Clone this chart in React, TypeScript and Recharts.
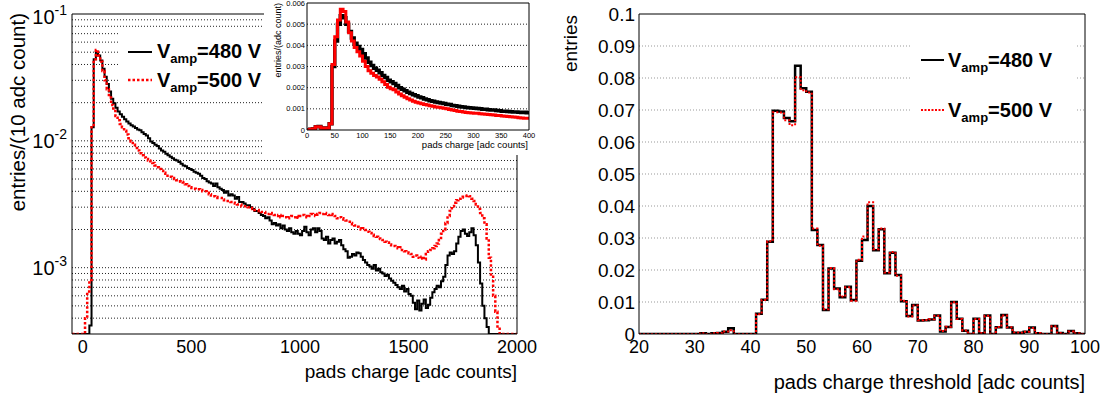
import React from 'react';
import { LineChart, Line, XAxis, YAxis, ReferenceLine } from 'recharts';

const FONT = '"Liberation Sans", Arial, Helvetica, sans-serif';

// Left panel: pads charge spectrum, 10 adc count bins from -50, values in units of 1e-4
const SPEC_BIN_START = -50;
const SPEC_BIN_WIDTH = 10;
const spec480 = [
  3, 3, 3, 3, 3, 3, 3, 3, 3.5,
  128, 440, 505, 470, 430, 370,
  320, 280, 245, 215, 198, 182, 170, 162, 155, 148,
  142, 137, 133, 130, 126, 123, 121, 117, 113, 110,
  105, 99, 96, 93, 91, 87, 84, 82, 79, 77,
  75, 73, 71, 70, 68, 66, 64, 63, 61, 60,
  59, 57, 56, 55, 53, 51, 50, 48, 47, 46,
  44, 46, 43, 42, 41, 39, 40, 37, 38, 37,
  35, 36, 33, 33, 32, 31, 31, 30, 29, 28,
  28, 27, 26, 25.5, 24.5, 25, 23.5, 22, 22.5, 21.5,
  22, 20.5, 21.5, 20, 19.5, 20.5, 19, 18.5, 19.5, 18.5,
  18, 19.5, 21, 19, 18, 20, 20.5, 19, 20.5, 19.5,
  17, 16.5, 17.5, 15.5, 16.5, 17, 15.5, 16, 16.5, 15,
  14, 13.5, 12, 12.2, 12.8, 12.5, 13.2, 13, 12.2, 11.5,
  11, 10.5, 10.2, 9.8, 10.5, 9.5, 9.8, 9.2, 9.0, 8.6,
  8.8, 8.2, 7.9, 7.6, 7.3, 7.0, 6.8, 7.2, 6.5, 6.8,
  6.2, 6.0, 5.3, 4.7, 5.5, 4.6, 5.2, 5.6, 4.8, 5.1,
  5.8, 6.4, 6.8, 7.2, 7.0, 7.8, 8.5, 10.5, 12.5, 13.2,
  12.8, 13.5, 15.5, 17.5, 19.5, 20.0, 18.5, 17.8, 19.0, 20.5,
  18.0, 15.0, 11.0, 7.5, 5.0, 4.0, 3.4, 3.0, 3, 3,
  3, 3, 3, 3, 3, 3, 3, 3, 3, 3,
];
const spec500 = [
  3, 3, 3, 3, 3, 3, 4, 6.5, 8,
  128, 440, 520, 470, 420, 355,
  300, 255, 220, 192, 172, 157, 145, 136, 128, 120,
  112, 105, 99, 93, 88, 84, 80, 77, 74, 72,
  70, 69, 67, 64, 62, 60, 58, 56, 55, 53,
  52, 51, 50, 49, 48, 47.5, 47, 45.5, 44, 43,
  42.5, 42, 41.5, 41.5, 41, 40, 40, 39, 38, 37,
  36.5, 36, 35.5, 35.5, 34.5, 34, 33.5, 33.5, 33, 32.5,
  32, 31.5, 31.5, 30.5, 30.5, 30.5, 30, 29.5, 29, 28.5,
  28.5, 28, 27.5, 27.5, 27, 26.5, 27, 26.5, 26, 25.5,
  26, 25, 25.5, 25, 24.5, 25, 25.5, 25, 25.5, 24.8,
  25.5, 26, 25.5, 25, 25.5, 26.5, 26, 25.5, 26.5, 27,
  26.5, 27, 26.5, 26, 26.5, 26, 25.5, 24.5, 25, 24.5,
  24, 23.5, 23, 22.5, 22, 21.5, 21, 20.5, 20, 20.5,
  19.8, 19.2, 18.8, 18.2, 17.8, 17.5, 17, 16.8, 16.5, 16,
  15.8, 15.2, 15, 14.8, 14.5, 14.2, 14.5, 13.8, 13.5, 13.2,
  13, 12.8, 12.2, 12.5, 12, 11.8, 12.2, 11.6, 12.8, 13.5,
  13.8, 14.2, 14.8, 15.5, 16.5, 18.5, 20, 22.5, 25.5, 28,
  30.5, 32.5, 34, 35, 35.8, 36.2, 36.8, 37, 36.5, 35,
  33.5, 31.5, 29, 27, 24.5, 22, 17, 12, 8.5, 6,
  4.5, 3.3, 3, 3, 3, 3, 3, 3, 3, 3,
];

// Inset: 5 adc count bins from 0, values in units of 1e-4 per adc count
const INSET_BIN_START = 0;
const INSET_BIN_WIDTH = 5;
const inset480 = [
  0, 0.3, 0.6, 1.5, 1.6, 1.0, 0.8, 1.0, 3.0, 30,
  42, 50, 54, 53, 50, 46.5, 43.5, 41, 39.5, 38,
  36, 34, 32, 30.5, 29.2, 28.2, 27, 25.8, 24.8, 23.5,
  22.8, 22, 21, 20, 19.2, 18.5, 17.8, 17.3, 16.6, 16.2,
  15.6, 15.2, 14.7, 14.3, 13.8, 13.6, 13.2, 13, 12.8, 12.5,
  12.2, 12, 11.6, 11.5, 11.2, 11, 10.9, 10.6, 10.5, 10.4,
  10.3, 10.1, 10, 9.8, 9.8, 9.6, 9.5, 9.4, 9.2, 9.1,
  8.9, 8.9, 8.7, 8.6, 8.5, 8.5, 8.4, 8.3, 8.4, 8.2,
];
const inset500 = [
  0, 0.3, 0.6, 1.5, 1.5, 1.0, 0.8, 1.0, 3.0, 31,
  44, 52, 57, 56, 51, 46, 42, 39, 37, 35,
  32.5, 30, 28, 26.8, 25.8, 25, 24, 22.8, 21.5, 20.2,
  19.5, 19, 18, 17, 16.2, 15.5, 14.8, 14.2, 13.6, 13.1,
  12.7, 12.4, 12, 11.8, 11.5, 11.2, 10.9, 10.7, 10.5, 10.3,
  10, 9.7, 9.4, 9.2, 8.9, 8.7, 8.5, 8.3, 8.2, 8.0,
  7.9, 7.9, 7.7, 7.6, 7.4, 7.3, 7.2, 7.1, 6.9, 6.8,
  6.6, 6.5, 6.4, 6.3, 6.1, 6.0, 5.8, 5.7, 5.6, 5.5,
];

// Right panel: pads charge threshold, 1 adc count bins from 20
const THR_BIN_START = 20;
const THR_BIN_WIDTH = 1;
const thr480 = [
  0, 0, 0, 0, 0, 0, 0, 0, 0, 0,
  0, 0.0002, 0, 0.0002, 0.0003, 0.0007, 0.0018, 0, 0, 0,
  0, 0.0063, 0.0107, 0.0288, 0.0698, 0.0695, 0.0675, 0.0665, 0.0838, 0.0768,
  0.0757, 0.0325, 0.0278, 0.0075, 0.0205, 0.0142, 0.0115, 0.0148, 0.0106, 0.0229,
  0.0294, 0.04, 0.0262, 0.0327, 0.019, 0.0254, 0.0184, 0.0102, 0.0056, 0.0091,
  0.0042, 0.0043, 0.0045, 0.0058, 0.0008, 0.0022, 0.01, 0.0048, 0.001, 0,
  0.0048, 0.0002, 0.0058, 0, 0.0021, 0.0059, 0.002, 0.0004, 0.0004, 0.0007,
  0.002, 0.0002, 0, 0, 0.0025, 0.0003, 0, 0.0009, 0.0002, 0,
];
const thr500 = [
  0, 0, 0, 0, 0, 0, 0, 0, 0, 0,
  0, 0.0002, 0, 0.0002, 0.0003, 0.0008, 0.0012, 0, 0, 0,
  0, 0.0062, 0.0106, 0.029, 0.0693, 0.0692, 0.0668, 0.0652, 0.0802, 0.0762,
  0.0755, 0.033, 0.0276, 0.0077, 0.0206, 0.014, 0.0117, 0.0146, 0.0104, 0.0232,
  0.0305, 0.0412, 0.0265, 0.033, 0.0192, 0.0256, 0.0182, 0.0104, 0.0055, 0.0089,
  0.0043, 0.0044, 0.0046, 0.0057, 0.0009, 0.0023, 0.0099, 0.0047, 0.0011, 0,
  0.0047, 0.0003, 0.0057, 0, 0.0022, 0.0058, 0.0021, 0.0005, 0.0004, 0.0007,
  0.0019, 0.0003, 0, 0, 0.0024, 0.0003, 0, 0.0008, 0.0002, 0,
];

// ticks and grid
const specXTicks = [0, 500, 1000, 1500, 2000];
const specXMinor = [100, 200, 300, 400, 600, 700, 800, 900, 1100, 1200, 1300, 1400, 1600, 1700, 1800, 1900];
const specYTicks = [0.1, 0.01, 0.001];
const specYMinor = [
  0.09, 0.08, 0.07, 0.06, 0.05, 0.04, 0.03, 0.02,
  0.009, 0.008, 0.007, 0.006, 0.005, 0.004, 0.003, 0.002,
  0.0009, 0.0008, 0.0007, 0.0006, 0.0005, 0.0004, 0.0003,
];
const specGrid = [
  0.09, 0.08, 0.07, 0.06, 0.05, 0.04, 0.03, 0.02, 0.01,
  0.009, 0.008, 0.007, 0.006, 0.005, 0.004, 0.003, 0.002, 0.001,
  0.0009, 0.0008, 0.0007, 0.0006, 0.0005, 0.0004,
];

const insetXTicks = [0, 50, 100, 150, 200, 250, 300, 350, 400];
const insetXMinor = [10, 20, 30, 40, 60, 70, 80, 90, 110, 120, 130, 140, 160, 170, 180, 190, 210, 220, 230, 240, 260, 270, 280, 290, 310, 320, 330, 340, 360, 370, 380, 390];
const insetYTicks = [0, 0.001, 0.002, 0.003, 0.004, 0.005, 0.006];
const insetYMinor = [0.0002, 0.0004, 0.0006, 0.0008, 0.0012, 0.0014, 0.0016, 0.0018, 0.0022, 0.0024, 0.0026, 0.0028, 0.0032, 0.0034, 0.0036, 0.0038, 0.0042, 0.0044, 0.0046, 0.0048, 0.0052, 0.0054, 0.0056, 0.0058];
const insetGrid = [0.001, 0.002, 0.003, 0.004, 0.005];

const thrXTicks = [20, 30, 40, 50, 60, 70, 80, 90, 100];
const thrXMinor = [22, 24, 26, 28, 32, 34, 36, 38, 42, 44, 46, 48, 52, 54, 56, 58, 62, 64, 66, 68, 72, 74, 76, 78, 82, 84, 86, 88, 92, 94, 96, 98];
const thrYTicks = [0, 0.01, 0.02, 0.03, 0.04, 0.05, 0.06, 0.07, 0.08, 0.09, 0.1];
const thrYMinor = [
  0.002, 0.004, 0.006, 0.008, 0.012, 0.014, 0.016, 0.018, 0.022, 0.024, 0.026, 0.028,
  0.032, 0.034, 0.036, 0.038, 0.042, 0.044, 0.046, 0.048, 0.052, 0.054, 0.056, 0.058,
  0.062, 0.064, 0.066, 0.068, 0.072, 0.074, 0.076, 0.078, 0.082, 0.084, 0.086, 0.088,
  0.092, 0.094, 0.096, 0.098,
];
const thrGrid = [0.01, 0.02, 0.03, 0.04, 0.05, 0.06, 0.07, 0.08, 0.09];

// histogram rows for a step line: one row per bin low edge plus the closing edge
function histRows(start: number, width: number, a: number[], b: number[], unit: number) {
  const rows = a.map((v, i) => ({ x: start + i * width, v480: v * unit, v500: b[i] * unit }));
  rows.push({ x: start + a.length * width, v480: a[a.length - 1] * unit, v500: b[b.length - 1] * unit });
  return rows;
}

const specData = histRows(SPEC_BIN_START, SPEC_BIN_WIDTH, spec480, spec500, 1e-4);
const insetData = histRows(INSET_BIN_START, INSET_BIN_WIDTH, inset480, inset500, 1e-4);
const thrData = histRows(THR_BIN_START, THR_BIN_WIDTH, thr480, thr500, 1);

const LINE = { stroke: '#000', strokeWidth: 1 };
// mirrored axes take no room; a tiny size keeps them drawn without stacking them apart
const THIN = 0.01;

// inward ROOT style ticks on all four sides, drawn by mirrored axes
function frameAxes(
  id: string,
  xDomain: number[],
  yDomain: number[],
  yScale: 'linear' | 'log',
  xMajor: number[],
  xMinor: number[],
  yMajor: number[],
  yMinor: number[],
  xLen: number[],
  yLen: number[],
) {
  const xa = (key: string, orientation: 'top' | 'bottom', ticks: number[], len: number, axisLine: boolean) => (
    <XAxis
      key={key}
      xAxisId={`${id}-${key}`}
      orientation={orientation}
      mirror
      height={THIN}
      type="number"
      domain={xDomain}
      allowDataOverflow
      ticks={ticks}
      interval={0}
      tick={false}
      tickSize={len}
      tickLine={LINE}
      axisLine={axisLine ? LINE : false}
    />
  );
  const ya = (key: string, orientation: 'left' | 'right', ticks: number[], len: number, axisLine: boolean) => (
    <YAxis
      key={key}
      yAxisId={`${id}-${key}`}
      orientation={orientation}
      mirror
      width={THIN}
      type="number"
      scale={yScale}
      domain={yDomain}
      allowDataOverflow
      ticks={ticks}
      interval={0}
      tick={false}
      tickSize={len}
      tickLine={LINE}
      axisLine={axisLine ? LINE : false}
    />
  );
  return [
    xa('bM', 'bottom', xMajor, xLen[0], false),
    xa('bm', 'bottom', xMinor, xLen[1], false),
    xa('tM', 'top', xMajor, xLen[0], true),
    xa('tm', 'top', xMinor, xLen[1], false),
    ya('lM', 'left', yMajor, yLen[0], false),
    ya('lm', 'left', yMinor, yLen[1], false),
    ya('rM', 'right', yMajor, yLen[0], true),
    ya('rm', 'right', yMinor, yLen[1], false),
  ];
}

const renderLogTick = (props: any) => {
  const { x, y, payload } = props;
  const exp = Math.round(Math.log10(payload.value));
  const shift = payload.value >= 0.1 ? 3 : 0;
  return (
    <text x={x} y={y + 7 + shift} textAnchor="end" fill="#000" fontFamily={FONT} fontSize={20}>
      10<tspan dy={-9} fontSize={14}>{`${exp}`}</tspan>
    </text>
  );
};

function VampLabel({ x, y, volts }: { x: number; y: number; volts: number }) {
  return (
    <text x={x} y={y} fontSize={20} fontWeight="bold" fontFamily={FONT} fill="#000">
      V<tspan fontSize={13} dy={4.5}>amp</tspan>
      <tspan dy={-4.5}>{`=${volts} V`}</tspan>
    </text>
  );
}

export default function App() {
  const tickFont = { fontSize: 18, fill: '#000', fontFamily: FONT };
  const smallFont = { fontSize: 7.5, fill: '#000', fontFamily: FONT };

  return (
    <div style={{ position: 'absolute', left: 0, top: 0, width: 1107, height: 399, background: '#fff', overflow: 'hidden' }}>
      {/* Left: charge spectrum, log y */}
      <div style={{ position: 'absolute', left: 0, top: 0 }}>
        <LineChart width={560} height={399} data={specData} margin={{ top: 14, right: 43, bottom: 35, left: 0 }}>
          <XAxis
            xAxisId="x"
            dataKey="x"
            type="number"
            domain={[-50, 2000]}
            allowDataOverflow
            ticks={specXTicks}
            interval={0}
            height={30}
            tickSize={0}
            tickMargin={6}
            tickLine={false}
            axisLine={LINE}
            tick={tickFont}
          />
          <YAxis
            yAxisId="y"
            type="number"
            scale="log"
            domain={[0.0003, 0.1]}
            allowDataOverflow
            ticks={specYTicks}
            interval={0}
            width={72}
            tickSize={0}
            tickMargin={5}
            tickLine={false}
            axisLine={LINE}
            tick={renderLogTick}
          />
          {frameAxes('s', [-50, 2000], [0.0003, 0.1], 'log', specXTicks, specXMinor, specYTicks, specYMinor, [10, 5], [11, 6])}
          {specGrid.map((v) => (
            <ReferenceLine key={v} xAxisId="x" yAxisId="y" y={v} stroke="#222" strokeDasharray="1 2" />
          ))}
          <Line xAxisId="x" yAxisId="y" dataKey="v480" type="stepAfter" stroke="#000" strokeWidth={2} dot={false} activeDot={false} isAnimationActive={false} />
          <Line xAxisId="x" yAxisId="y" dataKey="v500" type="stepAfter" stroke="#ff0000" strokeWidth={2.5} strokeDasharray="2.5 2" dot={false} activeDot={false} isAnimationActive={false} />
        </LineChart>
      </div>

      {/* Right: threshold distribution */}
      <div style={{ position: 'absolute', left: 560, top: 0 }}>
        <LineChart width={547} height={399} data={thrData} margin={{ top: 14, right: 22, bottom: 35, left: 0 }}>
          <XAxis
            xAxisId="x"
            dataKey="x"
            type="number"
            domain={[20, 100]}
            allowDataOverflow
            ticks={thrXTicks}
            interval={0}
            height={30}
            tickSize={0}
            tickMargin={6}
            tickLine={false}
            axisLine={LINE}
            tick={tickFont}
          />
          <YAxis
            yAxisId="y"
            type="number"
            domain={[0, 0.1]}
            allowDataOverflow
            ticks={thrYTicks}
            interval={0}
            width={79}
            tickSize={0}
            tickMargin={4}
            tickLine={false}
            axisLine={LINE}
            tick={{ ...tickFont, fontSize: 19 }}
          />
          {frameAxes('t', [20, 100], [0, 0.1], 'linear', thrXTicks, thrXMinor, thrYTicks, thrYMinor, [10, 5], [10, 5])}
          {thrGrid.map((v) => (
            <ReferenceLine key={v} xAxisId="x" yAxisId="y" y={v} stroke="#999" strokeDasharray="1 2" />
          ))}
          <Line xAxisId="x" yAxisId="y" dataKey="v480" type="stepAfter" stroke="#000" strokeWidth={2.5} dot={false} activeDot={false} isAnimationActive={false} />
          <Line xAxisId="x" yAxisId="y" dataKey="v500" type="stepAfter" stroke="#ff0000" strokeWidth={2} strokeDasharray="2 2" dot={false} activeDot={false} isAnimationActive={false} />
        </LineChart>
      </div>

      {/* legends and axis titles */}
      <svg width={1107} height={399} style={{ position: 'absolute', left: 0, top: 0 }}>
        <rect x={118} y={30} width={144} height={66} fill="#fff" />
        <line x1={128} y1={52} x2={152} y2={52} stroke="#000" strokeWidth={2} />
        <VampLabel x={157} y={58} volts={480} />
        <line x1={128} y1={80} x2={152} y2={80} stroke="#ff0000" strokeWidth={2.5} strokeDasharray="2.5 2" />
        <VampLabel x={157} y={87} volts={500} />

        <rect x={912} y={20} width={163} height={110} fill="#fff" />
        <line x1={921} y1={60} x2={944} y2={60} stroke="#000" strokeWidth={2} />
        <VampLabel x={948} y={67} volts={480} />
        <line x1={921} y1={110} x2={944} y2={110} stroke="#ff0000" strokeWidth={2} strokeDasharray="2 1.5" />
        <VampLabel x={948} y={117} volts={500} />

        <text transform="translate(25,13) rotate(-90)" textAnchor="end" fontSize={20.5} fontFamily={FONT} fill="#000">
          entries/(10 adc count)
        </text>
        <text x={517} y={378} textAnchor="end" fontSize={19} fontFamily={FONT} fill="#000">
          pads charge [adc counts]
        </text>
        <text transform="translate(577,15) rotate(-90)" textAnchor="end" fontSize={19} fontFamily={FONT} fill="#000">
          entries
        </text>
        <text x={1085} y={389} textAnchor="end" fontSize={20} fontFamily={FONT} fill="#000">
          pads charge threshold [adc counts]
        </text>
      </svg>

      {/* Inset: zoom on the low charge region, linear y */}
      <div style={{ position: 'absolute', left: 264, top: 0, width: 281, height: 155, background: '#fff' }}>
        <LineChart width={281} height={155} data={insetData} margin={{ top: 3, right: 16, bottom: 13, left: 0 }}>
          <XAxis
            xAxisId="x"
            dataKey="x"
            type="number"
            domain={[0, 400]}
            allowDataOverflow
            ticks={insetXTicks}
            interval={0}
            height={12}
            tickSize={0}
            tickMargin={3}
            tickLine={false}
            axisLine={LINE}
            tick={smallFont}
          />
          <YAxis
            yAxisId="y"
            type="number"
            domain={[0, 0.006]}
            allowDataOverflow
            ticks={insetYTicks}
            interval={0}
            width={43}
            tickSize={0}
            tickMargin={2}
            tickLine={false}
            axisLine={LINE}
            tick={smallFont}
          />
          {frameAxes('i', [0, 400], [0, 0.006], 'linear', insetXTicks, insetXMinor, insetYTicks, insetYMinor, [4, 2], [4, 2])}
          {insetGrid.map((v) => (
            <ReferenceLine key={v} xAxisId="x" yAxisId="y" y={v} stroke="#222" strokeDasharray="1 2" />
          ))}
          <Line xAxisId="x" yAxisId="y" dataKey="v480" type="stepAfter" stroke="#000" strokeWidth={3.5} dot={false} activeDot={false} isAnimationActive={false} />
          <Line xAxisId="x" yAxisId="y" dataKey="v500" type="stepAfter" stroke="#ff0000" strokeWidth={3} dot={false} activeDot={false} isAnimationActive={false} />
        </LineChart>
      </div>

      <svg width={1107} height={399} style={{ position: 'absolute', left: 0, top: 0, pointerEvents: 'none' }}>
        <text transform="translate(281,3) rotate(-90)" textAnchor="end" fontSize={9} fontFamily={FONT} fill="#000">
          entries/(adc count)
        </text>
        <text x={528} y={148} textAnchor="end" fontSize={9.5} fontFamily={FONT} fill="#000">
          pads charge [adc counts]
        </text>
      </svg>
    </div>
  );
}
